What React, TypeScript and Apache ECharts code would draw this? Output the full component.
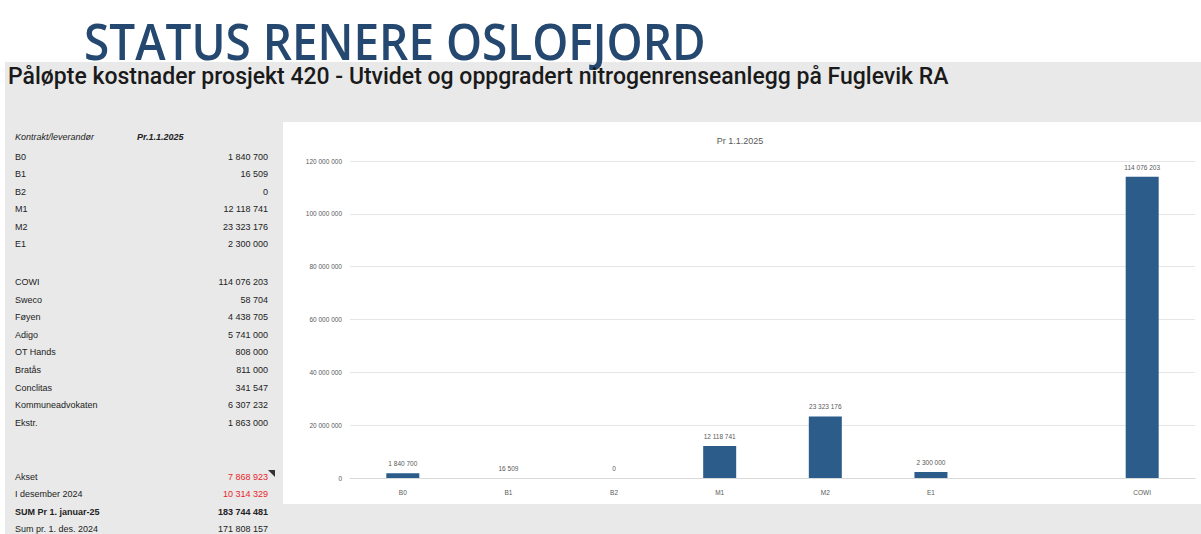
import React, { useEffect, useRef } from "react";
import * as echarts from "echarts";

// Chart data
const categories = ["B0", "B1", "B2", "M1", "M2", "E1", "", "COWI"];
const barValues: (number | null)[] = [1840700, 16509, 0, 12118741, 23323176, 2300000, null, 114076203];
const yTicks = { min: 0, max: 120000000, interval: 20000000 };

// Left table
const headerLabel = "Kontrakt/leverandør";
const headerValue = "Pr.1.1.2025";
const block1Labels = ["B0", "B1", "B2", "M1", "M2", "E1"];
const block1Values = [1840700, 16509, 0, 12118741, 23323176, 2300000];
const block2Labels = ["COWI", "Sweco", "Føyen", "Adigo", "OT Hands", "Bratås", "Conclitas", "Kommuneadvokaten", "Ekstr."];
const block2Values = [114076203, 58704, 4438705, 5741000, 808000, 811000, 341547, 6307232, 1863000];
const block3Labels = ["Akset", "I desember 2024", "SUM Pr 1. januar-25", "Sum pr. 1. des. 2024"];
const block3Values = [7868923, 10314329, 183744481, 171808157];
const block3Styles = ["red", "red", "bold", "normal"];

const fmt = (n: number) => String(n).replace(/\B(?=(\d{3})+(?!\d))/g, " ");

const FONT = "Liberation Sans, Arial, sans-serif";

export default function App() {
  const ref = useRef<HTMLDivElement>(null);
  useEffect(() => {
    document.body.style.margin = "0";
    const chart = echarts.init(ref.current!, null, { renderer: "svg" });

    const graphics: any[] = [];
    graphics.push({ type: "rect", z: -10, shape: { x: 5, y: 62, width: 1196, height: 472 }, style: { fill: "#e9e9e9" }, silent: true });
    graphics.push({ type: "rect", z: -9, shape: { x: 283, y: 122, width: 918, height: 382 }, style: { fill: "#ffffff" }, silent: true });
    graphics.push({
      type: "text", x: 84, y: 40, scaleX: 0.9,
      style: { text: "STATUS RENERE OSLOFJORD", fill: "#24486f", fontSize: 51, fontFamily: "Open Sans, sans-serif", fontWeight: 600, verticalAlign: "middle", align: "left" },
    });
    graphics.push({
      type: "text", x: 8, y: 76,
      style: { text: "Påløpte kostnader prosjekt 420 - Utvidet og oppgradert nitrogenrenseanlegg på Fuglevik RA", fill: "#1a1a1a", fontSize: 23, fontFamily: "Roboto, sans-serif", fontWeight: 500, verticalAlign: "middle", align: "left" },
    });
    graphics.push({
      type: "text", x: 740, y: 141,
      style: { text: "Pr 1.1.2025", fill: "#595959", fontSize: 9, fontFamily: FONT, verticalAlign: "middle", align: "center" },
    });

    const labelX = 15;
    const valueX = 268;
    const fs = 9;
    graphics.push({ type: "text", x: labelX, y: 137, style: { text: headerLabel, fill: "#222", fontSize: fs, fontStyle: "italic", fontFamily: FONT, verticalAlign: "middle" } });
    graphics.push({ type: "text", x: 137, y: 137, style: { text: headerValue, fill: "#222", fontSize: fs, fontStyle: "italic", fontWeight: "bold", fontFamily: FONT, verticalAlign: "middle" } });

    const addRows = (labels: string[], values: number[], y0: number, step: number, styles?: string[]) => {
      labels.forEach((l, i) => {
        const y = y0 + i * step;
        const st = styles ? styles[i] : "normal";
        const bold = st === "bold" ? "bold" : "normal";
        graphics.push({ type: "text", x: labelX, y, style: { text: l, fill: "#222", fontSize: fs, fontWeight: bold, fontFamily: FONT, verticalAlign: "middle" } });
        graphics.push({ type: "text", x: valueX, y, style: { text: fmt(values[i]), fill: st === "red" ? "#e8262b" : "#222", fontSize: fs, fontWeight: bold, fontFamily: FONT, verticalAlign: "middle", align: "right" } });
      });
    };
    addRows(block1Labels, block1Values, 157, 17.4);
    addRows(block2Labels, block2Values, 282, 17.6);
    addRows(block3Labels, block3Values, 477, 17.4, block3Styles);
    graphics.push({ type: "polygon", shape: { points: [[268, 470], [275, 470], [275, 477]] }, style: { fill: "#333" } });

    chart.setOption({
      animation: false,
      graphic: graphics,
      grid: { left: 350, right: 6, top: 161, bottom: 56, containLabel: false },
      xAxis: {
        type: "category",
        data: categories,
        axisTick: { show: false },
        axisLine: { lineStyle: { color: "#d9d9d9" } },
        axisLabel: { color: "#595959", fontSize: 6.5, fontFamily: FONT, margin: 11 },
      },
      yAxis: {
        type: "value",
        min: yTicks.min,
        max: yTicks.max,
        interval: yTicks.interval,
        axisLine: { show: false },
        axisTick: { show: false },
        splitLine: { lineStyle: { color: "#e6e6e6" } },
        axisLabel: { color: "#595959", fontSize: 6.5, fontFamily: FONT, margin: 8, formatter: (v: number) => fmt(v) },
      },
      series: [
        {
          type: "bar",
          data: barValues,
          barWidth: 33,
          itemStyle: { color: "#2b5c8a" },
          label: {
            show: true,
            position: "top",
            distance: 6,
            color: "#595959",
            fontSize: 6.5,
            fontFamily: FONT,
            formatter: (p: any) => (p.value == null ? "" : fmt(p.value)),
          },
        },
      ],
    });
    return () => chart.dispose();
  }, []);
  return <div ref={ref} style={{ width: 1201, height: 534 }} />;
}
